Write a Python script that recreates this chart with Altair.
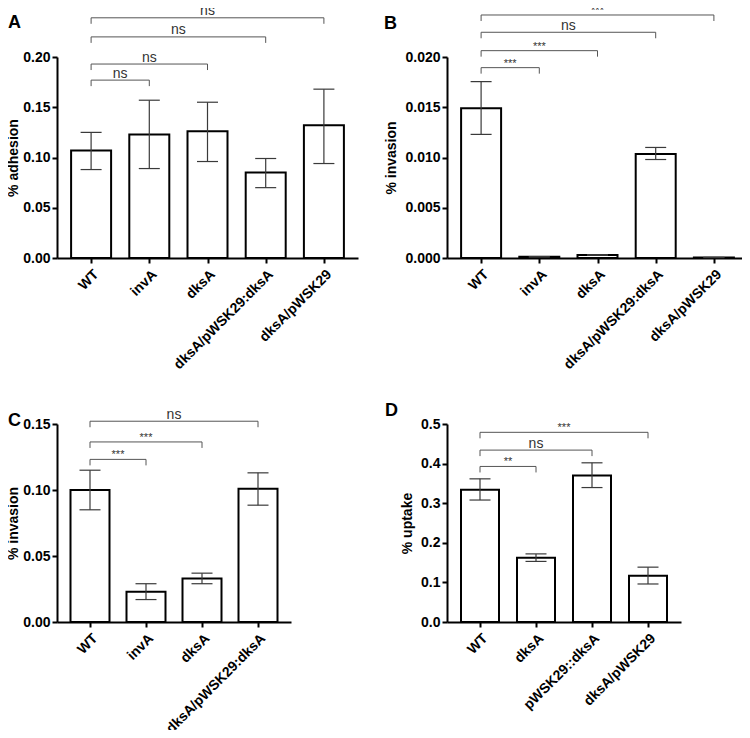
import altair as alt
import pandas as pd

FONT = "Liberation Sans"
ERR_COLOR = "#3a3a3a"
BRACKET_COLOR = "#555555"

# ---------------- Panel A : % adhesion ----------------
a_groups = ["WT", "invA", "dksA", "dksA/pWSK29:dksA", "dksA/pWSK29"]
a_mean = [0.107, 0.123, 0.126, 0.085, 0.132]
a_low = [0.088, 0.089, 0.096, 0.070, 0.094]
a_high = [0.125, 0.157, 0.155, 0.099, 0.168]
a_sig_to = ["invA", "dksA", "dksA/pWSK29:dksA", "dksA/pWSK29"]
a_sig_level = [0.177, 0.193, 0.220, 0.239]
a_sig_text = ["ns", "ns", "ns", "ns"]
a_ticks = [0.0, 0.05, 0.10, 0.15, 0.20]

# ---------------- Panel B : % invasion ----------------
b_groups = ["WT", "invA", "dksA", "dksA/pWSK29:dksA", "dksA/pWSK29"]
b_mean = [0.0149, 0.00012, 0.0003, 0.01035, 0.00005]
b_low = [0.0123, 0.00010, 0.00027, 0.0098, 0.00004]
b_high = [0.01755, 0.00014, 0.00033, 0.0110, 0.00006]
b_sig_to = ["invA", "dksA", "dksA/pWSK29:dksA", "dksA/pWSK29"]
b_sig_level = [0.01894, 0.02063, 0.02246, 0.02418]
b_sig_text = ["***", "***", "ns", "***"]
b_ticks = [0.0, 0.005, 0.010, 0.015, 0.020]

# ---------------- Panel C : % invasion ----------------
c_groups = ["WT", "invA", "dksA", "dksA/pWSK29:dksA"]
c_mean = [0.100, 0.023, 0.033, 0.101]
c_low = [0.085, 0.017, 0.029, 0.0885]
c_high = [0.115, 0.029, 0.037, 0.113]
c_sig_to = ["invA", "dksA", "dksA/pWSK29:dksA"]
c_sig_level = [0.1232, 0.1364, 0.1521]
c_sig_text = ["***", "***", "ns"]
c_ticks = [0.0, 0.05, 0.10, 0.15]

# ---------------- Panel D : % uptake ----------------
d_groups = ["WT", "dksA", "pWSK29::dksA", "dksA/pWSK29"]
d_mean = [0.334, 0.162, 0.370, 0.117]
d_low = [0.308, 0.153, 0.3395, 0.096]
d_high = [0.3615, 0.172, 0.402, 0.1385]
d_sig_to = ["dksA", "pWSK29::dksA", "dksA/pWSK29"]
d_sig_level = [0.3928, 0.4341, 0.4790]
d_sig_text = ["**", "ns", "***"]
d_ticks = [0.0, 0.1, 0.2, 0.3, 0.4, 0.5]


def panel(letter, groups, mean, low, high, sig_to, sig_level, sig_text, ticks,
          fmt, ytitle, width, height, bar_size, letter_dx, letter_offset,
          title_pad):
    n = len(groups)
    df = pd.DataFrame({"group": groups, "pos": list(range(n)),
                       "mean": mean, "low": low, "high": high})
    sig = pd.DataFrame({"start": [0] * len(sig_to),
                        "end": [groups.index(g) for g in sig_to],
                        "level": sig_level, "label": sig_text})
    label_js = "[" + ",".join("'" + g + "'" for g in groups) + "][datum.value]"
    xscale = alt.Scale(domain=[-0.5, n - 0.5], nice=False, zero=False)
    yscale = alt.Scale(domain=[0, ticks[-1]], nice=False, zero=True)
    xaxis = alt.Axis(values=list(range(n)), labelExpr=label_js, title=None,
                     labelAngle=-45, labelFlush=False, labelOverlap=False,
                     labelBound=False, grid=False, labelPadding=4)
    yaxis = alt.Axis(values=ticks, format=fmt, title=ytitle, grid=False,
                     labelFlush=False, labelOverlap=False,
                     titlePadding=title_pad)

    base = alt.Chart(df)
    bars = base.mark_bar(size=bar_size, fill="white", stroke="black",
                         strokeWidth=2).encode(
        x=alt.X("pos:Q", scale=xscale, axis=xaxis),
        y=alt.Y("mean:Q", scale=yscale, axis=yaxis),
    )
    err = base.mark_rule(color=ERR_COLOR, strokeWidth=1.2).encode(
        x=alt.X("pos:Q", scale=xscale, axis=xaxis),
        y=alt.Y("low:Q", scale=yscale, axis=yaxis),
        y2="high:Q",
    )
    cap_lo = base.mark_tick(orient="horizontal", size=21, thickness=1.2,
                            color=ERR_COLOR, opacity=1).encode(
        x=alt.X("pos:Q", scale=xscale, axis=xaxis),
        y=alt.Y("low:Q", scale=yscale, axis=yaxis),
    )
    cap_hi = base.mark_tick(orient="horizontal", size=21, thickness=1.2,
                            color=ERR_COLOR, opacity=1).encode(
        x=alt.X("pos:Q", scale=xscale, axis=xaxis),
        y=alt.Y("high:Q", scale=yscale, axis=yaxis),
    )

    sb = alt.Chart(sig)
    hline = sb.mark_rule(color=BRACKET_COLOR, strokeWidth=1).encode(
        x=alt.X("start:Q", scale=xscale, axis=xaxis),
        x2="end:Q",
        y=alt.Y("level:Q", scale=yscale, axis=yaxis),
    )
    ltick = sb.mark_rule(color=BRACKET_COLOR, strokeWidth=1, y2Offset=6).encode(
        x=alt.X("start:Q", scale=xscale, axis=xaxis),
        y=alt.Y("level:Q", scale=yscale, axis=yaxis),
        y2="level:Q",
    )
    rtick = sb.mark_rule(color=BRACKET_COLOR, strokeWidth=1, y2Offset=6).encode(
        x=alt.X("end:Q", scale=xscale, axis=xaxis),
        y=alt.Y("level:Q", scale=yscale, axis=yaxis),
        y2="level:Q",
    )
    txt_base = sb.transform_calculate(mid="(datum.start + datum.end) / 2")
    txt_ns = txt_base.transform_filter("datum.label == 'ns'").mark_text(
        font=FONT, fontSize=14, color="#333333", baseline="alphabetic", dy=-2.5
    ).encode(
        x=alt.X("mid:Q", scale=xscale, axis=xaxis),
        y=alt.Y("level:Q", scale=yscale, axis=yaxis),
        text="label:N",
    )
    txt_star = txt_base.transform_filter("datum.label != 'ns'").mark_text(
        font=FONT, fontSize=11, color="#333333", baseline="alphabetic", dy=-1
    ).encode(
        x=alt.X("mid:Q", scale=xscale, axis=xaxis),
        y=alt.Y("level:Q", scale=yscale, axis=yaxis),
        text="label:N",
    )

    title = alt.TitleParams(letter, anchor="start", frame="group", dx=letter_dx,
                            offset=letter_offset, fontSize=18, font=FONT,
                            fontWeight="bold", color="black")
    return alt.layer(bars, err, cap_lo, cap_hi, hline, ltick, rtick,
                     txt_ns, txt_star).properties(width=width, height=height,
                                                  title=title)


pa = panel("A", a_groups, a_mean, a_low, a_high, a_sig_to, a_sig_level,
           a_sig_text, a_ticks, ".2f", "% adhesion", 301, 201, 40, -49, -28, 2)
pb = panel("B", b_groups, b_mean, b_low, b_high, b_sig_to, b_sig_level,
           b_sig_text, b_ticks, ".3f", "% invasion", 301, 201, 40, -63, -28, 6)
pc = panel("C", c_groups, c_mean, c_low, c_high, c_sig_to, c_sig_level,
           c_sig_text, c_ticks, ".2f", "% invasion", 234, 198, 39, -49, -22, 2)
pd_ = panel("D", d_groups, d_mean, d_low, d_high, d_sig_to, d_sig_level,
            d_sig_text, d_ticks, ".1f", "% uptake", 234, 198, 38, -62, -3, 6)

chart = alt.concat(
    pa, pb, pc, pd_, columns=2,
    spacing=alt.RowColnumber(row=166, column=89),
    bounds="flush",
).properties(
    autosize=alt.AutoSizeParams(type="none"),
    padding={"left": 49, "top": 49, "right": 685, "bottom": 673},
).configure_view(stroke=None).configure_axis(
    labelFont=FONT, titleFont=FONT, labelFontWeight="bold",
    titleFontWeight="bold", labelFontSize=14, titleFontSize=14,
    labelColor="black", titleColor="black", domainColor="black",
    domainWidth=2, tickColor="black", tickWidth=2, tickSize=5,
)

chart.save("out.html", embed_options={"renderer": "svg", "actions": False})
